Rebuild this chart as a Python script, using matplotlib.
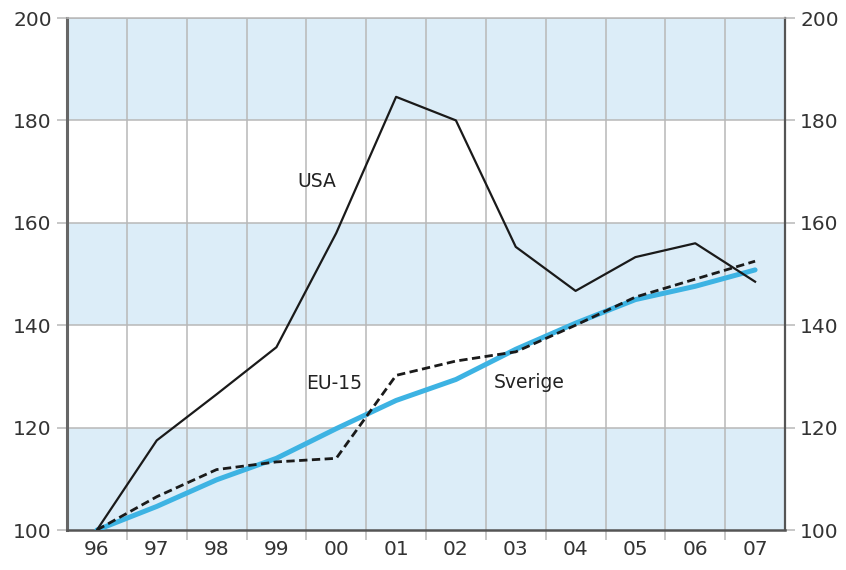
import numpy as np
import matplotlib
matplotlib.use("Agg")
import matplotlib.pyplot as plt

# Data (index, 1996 = 100)
years = ["96", "97", "98", "99", "00", "01", "02", "03", "04", "05", "06", "07"]
usa = [100, 117.5, 126.5, 135.7, 158, 184.6, 180, 155.3, 146.7, 153.3, 156, 148.5]
eu15 = [100, 106.5, 111.8, 113.3, 114, 130.2, 133, 134.8, 140, 145.5, 149, 152.5]
sverige = [100, 104.6, 109.8, 114, 119.8, 125.3, 129.4, 135.3, 140.4, 145, 147.6, 150.8]

bands = [(100, 120), (140, 160), (180, 200)]
yticks = [100, 120, 140, 160, 180, 200]

fig = plt.figure(figsize=(8.46, 5.70), dpi=100)
ax = fig.add_axes([67 / 846, 1 - 530 / 570, (785 - 67) / 846, (530 - 18) / 570])

x = np.arange(len(years))

for lo, hi in bands:
    ax.axhspan(lo, hi, color="#dcedf8", zorder=0, lw=0)

for yv in yticks[1:]:
    ax.axhline(yv, color="#b8b8b8", lw=1.1, zorder=1)
for xv in x[:-1] + 0.5:
    ax.axvline(xv, color="#b8b8b8", lw=1.1, zorder=1)

ax.plot(x, sverige, color="#3db3e3", lw=3.6, solid_capstyle="round", zorder=3)
ax.plot(x, eu15, color="#1a1a1a", lw=2.0, ls=(0, (3, 1.6)), zorder=4)
ax.plot(x, usa, color="#1a1a1a", lw=1.6, zorder=5)

ax.text(3.68, 168, "USA", fontsize=13.5, color="#222222", ha="center", va="center")
ax.text(3.97, 128.6, "EU-15", fontsize=13.5, color="#222222", ha="center", va="center")
ax.text(7.22, 128.9, "Sverige", fontsize=13.5, color="#222222", ha="center", va="center")

ax.set_xlim(-0.5, 11.5)
ax.set_ylim(100, 200)
ax.set_yticks(yticks)
ax.set_xticks(x)
ax.set_xticklabels(years)
ax.set_xticks(x[:-1] + 0.5, minor=True)

ax.tick_params(axis="x", which="major", length=0, labelsize=14.5, colors="#333333", pad=7)
ax.tick_params(axis="x", which="minor", length=7, color="#b8b8b8", width=1.1)
ax.tick_params(axis="y", which="major", length=7, color="#b8b8b8", width=1.1,
               labelsize=14.5, labelcolor="#333333", left=True, right=True,
               labelleft=True, labelright=True, pad=4)

ax.spines["top"].set_color("#b8b8b8")
ax.spines["top"].set_linewidth(1.1)
ax.spines["left"].set_color("#666666")
ax.spines["left"].set_linewidth(2.2)
ax.spines["right"].set_color("#555555")
ax.spines["right"].set_linewidth(1.6)
ax.spines["bottom"].set_color("#555555")
ax.spines["bottom"].set_linewidth(1.8)

fig.savefig("out.png", dpi=100)
